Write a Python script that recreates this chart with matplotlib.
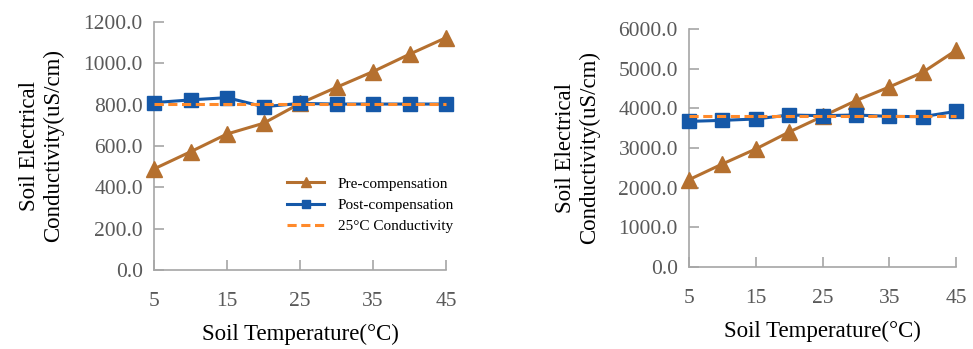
import matplotlib.pyplot as plt

plt.rcParams['font.family'] = ['Liberation Serif', 'DejaVu Serif']

temps = [5, 10, 15, 20, 25, 30, 35, 40, 45]

# left panel (low conductivity soil)
pre_a = [489, 572, 658, 710, 806, 884, 960, 1044, 1124]
post_a = [810, 823, 834, 790, 806, 803, 803, 803, 803]
ref_a = [805] * len(temps)

# right panel (high conductivity soil)
pre_b = [2201, 2597, 2975, 3403, 3797, 4193, 4538, 4906, 5461]
post_b = [3671, 3697, 3731, 3832, 3815, 3832, 3798, 3790, 3923]
ref_b = [3810] * len(temps)

xticks = [5, 15, 25, 35, 45]

brown = '#B5702F'
blue = '#1558A8'
orange = '#FF8A2B'
grey = '#A6A6A6'
txt = '#595959'


def draw(ax, pre, post, ref, ymax, step, ylpad):
    ax.plot(temps, pre, color=brown, lw=2.2, marker='^', ms=11, clip_on=False,
            label='Pre-compensation', zorder=3)
    ax.plot(temps, post, color=blue, lw=2.2, marker='s', ms=10, clip_on=False,
            label='Post-compensation', zorder=3)
    ax.plot(temps, ref, color=orange, lw=2.2, ls=(0, (3, 1.5)), clip_on=False,
            label='25°C Conductivity', zorder=4)
    ax.set_xlim(5, 45)
    ax.set_ylim(0, ymax)
    ax.set_xticks(xticks)
    ax.set_yticks(range(0, ymax + 1, step))
    ax.set_yticklabels(['%.1f' % v for v in range(0, ymax + 1, step)])
    for s in ['top', 'right']:
        ax.spines[s].set_visible(False)
    for s in ['left', 'bottom']:
        ax.spines[s].set_color(grey)
        ax.spines[s].set_linewidth(1.2)
    ax.tick_params(direction='in', length=7, color=grey, width=1.2,
                   labelsize=15.5, labelcolor=txt, pad=8)
    ax.tick_params(axis='x', pad=16)
    ax.set_xlabel('Soil Temperature(°C)', fontsize=16.5, labelpad=9)
    ax.set_ylabel('Soil Electrical\nConductivity(uS/cm)', fontsize=16.5,
                  labelpad=ylpad, linespacing=1.2)


fig = plt.figure(figsize=(9.73, 3.49), dpi=100)
ax1 = fig.add_axes([154 / 973, 1 - 270 / 349, 292 / 973, 248 / 349])
ax2 = fig.add_axes([689 / 973, 1 - 267 / 349, 267 / 973, 238 / 349])

draw(ax1, pre_a, post_a, ref_a, 1200, 200, 14)
draw(ax2, pre_b, post_b, ref_b, 6000, 1000, 13)

leg = ax1.legend(loc='upper left', bbox_to_anchor=(0.41, 0.43), frameon=False,
                 fontsize=11, handlelength=2.4, markerscale=0.6,
                 labelspacing=0.5, handletextpad=0.9)

fig.savefig('out.png', dpi=100)
